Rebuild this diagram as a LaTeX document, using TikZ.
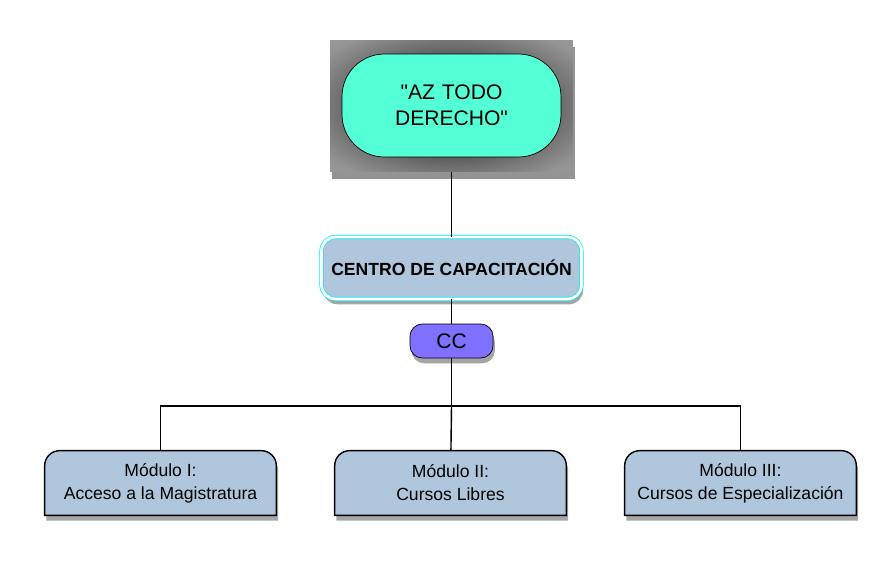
\documentclass[tikz,border=0pt]{standalone}
\usepackage{fontspec}
\setmainfont{Liberation Sans}[Ligatures=TeXOff]
\usetikzlibrary{shapes.misc, shadows, backgrounds}
\definecolor{turquesa}{RGB}{85,255,213}
\definecolor{celeste}{RGB}{176,198,221}
\definecolor{lila}{RGB}{128,112,255}
\definecolor{cian}{RGB}{0,238,238}
\pgfdeclareradialshading{sombreado}{\pgfpoint{0bp}{0bp}}{color(0bp)=(black!75); color(16bp)=(black!70); color(24bp)=(black!55); color(32bp)=(black!42); color(50bp)=(black!35)}
\tikzstyle{sombra} = [drop shadow={shadow xshift=1pt, shadow yshift=-3pt, opacity=0.5, fill=black!70}]
\tikzstyle{marco} = [rectangle, minimum width=4.86cm, minimum height=2.64cm, shading=sombreado, drop shadow={shadow xshift=1pt, shadow yshift=-4pt, opacity=0.6, fill=black!70}]
\tikzstyle{capsula} = [rectangle, rounded corners=0.85cm, minimum width=4.38cm, minimum height=2.06cm, text width=3cm, align=center, draw=black, fill=turquesa, font=\fontsize{12}{14.7}\selectfont]
\tikzstyle{centro} = [rectangle, rounded corners=8pt, minimum width=5.2cm, minimum height=1.24cm, draw=cian, double=white, double distance=1.6pt, fill=celeste, font=\bfseries, sombra]
\tikzstyle{cc} = [rectangle, rounded corners=7pt, minimum width=1.66cm, minimum height=0.68cm, draw=black, fill=lila, font=\fontsize{12}{14}\selectfont, sombra]
\tikzstyle{modulo} = [rectangle, minimum width=4.62cm, minimum height=1.28cm, align=center, font=\fontsize{10}{13}\selectfont]
\tikzstyle{linea} = [line width=0.8pt]

\begin{document}
\begin{tikzpicture}[x=0.02cm, y=-0.02cm]
\useasboundingbox (0,0) rectangle (885,562);

\node (marco) [marco] at (451.5,106) {};
\node (lema) [capsula] at (451.5,105.5) {"AZ TODO\\DERECHO"};
\node (centro) [centro] at (451.5,268) {CENTRO DE CAPACITACIÓN};
\node (cc) [cc] at (451.5,341) {CC};
\node (modI) [modulo] at (160.5,483) {Módulo I:\\Acceso a la Magistratura};
\node (modII) [modulo] at (450.5,483) {Módulo II:\\Cursos Libres};
\node (modIII) [modulo] at (740.5,483) {Módulo III:\\Cursos de Especialización};
\coordinate (union) at (451.5,406);

% cajas con esquinas superiores redondeadas
\begin{scope}[on background layer]
\foreach \m in {modI, modII, modIII}
  \draw [fill=celeste, draw=black, linea, sombra] (\m.south west) -- ([yshift=-0.3cm]\m.north west) arc[start angle=180, end angle=90, radius=0.3cm] -- ([xshift=-0.3cm]\m.north east) arc[start angle=90, end angle=0, radius=0.3cm] -- (\m.south east) -- cycle;
\end{scope}

\draw [linea] (marco) -- (centro);
\draw [linea] (centro) -- (cc);
\draw [linea] (cc) -- (union);
\draw [linea] (union) -| (modI);
\draw [linea] (union) -- (modII);
\draw [linea] (union) -| (modIII);

\end{tikzpicture}
\end{document}
